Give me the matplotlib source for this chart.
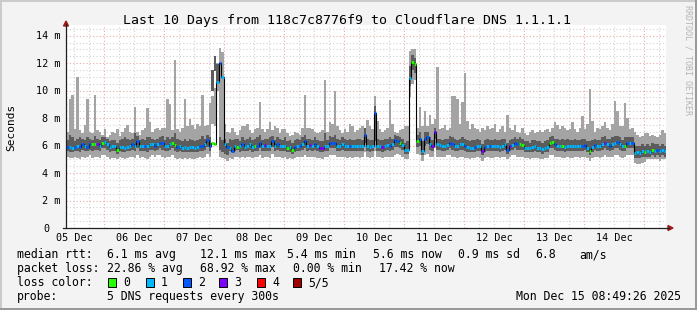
import numpy as np
import matplotlib
matplotlib.use('Agg')
import matplotlib.pyplot as plt
from matplotlib.patches import Rectangle, Polygon
from matplotlib.lines import Line2D

# hourly steps, starting Dec 05 08:49 (240 h = 10 days), values in ms
med = [5.9, 5.9, 5.8, 5.9, 6.0, 5.9, 6.1, 6.0, 5.9, 6.1, 6.1, 6.1, 6.1, 6.0, 6.2, 6.25, 6.1, 5.9, 6.0, 6.0, 5.7, 5.9, 5.9, 5.85,
       5.9, 6.0, 6.1, 6.0, 6.3, 6.0, 6.0, 6.0, 5.95, 6.1, 6.1, 6.0, 6.1, 6.2, 6.2, 6.0, 6.0, 6.1, 6.2, 6.05, 5.9, 6.0, 5.85, 5.9,
       5.8, 5.9, 5.9, 5.85, 5.9, 6.0, 6.0, 6.1, 6.4, 6.0, 6.2, 6.1, 10.6, 12.0, 11.0, 6.1, 5.9, 5.8, 5.6, 6.0, 5.9, 6.0, 6.1, 5.9,
       6.0, 6.1, 5.9, 6.0, 6.0, 6.2, 6.0, 6.05, 6.0, 6.0, 6.3, 6.0, 6.1, 6.0, 5.95, 6.0, 5.8, 5.9, 5.7, 5.9, 6.0, 6.0, 6.1, 6.3,
       6.0, 6.05, 6.0, 6.1, 5.95, 5.8, 5.8, 6.0, 6.0, 6.2, 6.2, 6.2, 6.0, 6.0, 6.1, 6.0, 6.0, 6.0, 5.95, 5.95, 6.0, 6.0, 6.0, 6.8,
       6.0, 5.9, 6.0, 8.4, 6.0, 6.0, 5.9, 6.0, 6.05, 6.0, 6.1, 6.4, 6.3, 6.15, 6.05, 5.7, 5.7, 10.9, 12.1, 11.9, 6.3, 6.5, 5.6, 6.5,
       6.6, 6.1, 6.0, 7.0, 6.1, 6.05, 6.0, 6.0, 6.05, 6.2, 6.1, 6.0, 6.0, 6.1, 6.1, 6.0, 5.9, 5.8, 5.8, 5.9, 5.95, 6.0, 5.6, 5.9,
       6.0, 6.0, 5.95, 6.0, 6.0, 5.9, 6.0, 6.1, 5.7, 6.0, 6.05, 6.2, 6.1, 6.1, 6.05, 5.8, 5.8, 5.8, 5.9, 5.95, 5.8, 5.8, 5.75, 5.8,
       5.9, 6.2, 6.25, 6.1, 6.0, 6.0, 6.0, 5.9, 6.0, 6.0, 5.95, 6.0, 6.0, 6.0, 6.0, 6.05, 5.8, 5.6, 5.9, 6.05, 6.0, 6.0, 6.1, 6.2,
       6.1, 6.0, 6.1, 6.2, 6.25, 6.1, 5.95, 6.0, 6.15, 6.2, 6.2, 5.45, 5.5, 5.45, 5.6, 5.55, 5.6, 5.55, 5.65, 5.6, 5.65, 5.6, 5.65, 5.6]

loss = [2, 1, 1, 2, 1, 2, 2, 1, 2, 2, 0, 0, 3, 1, 0, 1, 1, 1, 1, 1, 0, 1, 1, 1,
        1, 1, 2, 1, 2, 1, 1, 2, 1, 1, 1, 2, 1, 2, 2, 1, 1, 1, 0, 0, 2, 1, 1, 1,
        1, 1, 1, 1, 1, 2, 2, 1, 2, 2, 0, 0, 1, 2, 1, 1, 2, 1, 2, 1, 0, 1, 2, 1,
        1, 1, 1, 0, 2, 2, 1, 3, 1, 1, 2, 1, 2, 1, 1, 1, 0, 1, 0, 2, 1, 2, 1, 2,
        1, 3, 1, 2, 1, 3, 3, 1, 1, 2, 2, 2, 1, 1, 1, 1, 1, 2, 1, 1, 1, 1, 1, 2,
        1, 1, 1, 2, 1, 1, 3, 1, 1, 2, 1, 2, 2, 0, 1, 1, 1, 1, 0, 0, 0, 2, 1, 2,
        2, 1, 3, 3, 1, 1, 1, 1, 1, 2, 2, 1, 1, 1, 1, 2, 1, 1, 1, 2, 1, 1, 3, 2,
        1, 2, 1, 1, 1, 1, 1, 1, 2, 3, 1, 2, 2, 0, 0, 1, 1, 1, 1, 1, 1, 1, 1, 1,
        1, 0, 0, 2, 1, 1, 0, 1, 1, 1, 1, 1, 1, 1, 2, 2, 1, 0, 1, 2, 1, 1, 1, 3,
        1, 2, 1, 1, 2, 1, 1, 0, 2, 1, 2, 1, 1, 1, 1, 0, 1, 1, 0, 1, 2, 1, 1, 1]

hi = [7.0, 9.4, 9.7, 7.2, 11.0, 7.1, 6.9, 7.5, 9.4, 7.0, 6.9, 9.7, 7.1, 7.0, 6.8, 7.2, 6.6, 6.8, 7.0, 6.9, 7.2, 6.7, 7.0, 7.3,
      7.5, 7.0, 6.9, 8.8, 7.0, 6.8, 7.1, 7.3, 8.7, 7.7, 7.0, 7.2, 7.3, 7.1, 7.3, 7.3, 9.4, 9.0, 7.1, 12.2, 7.2, 7.0, 7.3, 9.4,
      7.4, 7.9, 7.5, 7.2, 7.6, 7.4, 9.7, 7.4, 7.5, 9.1, 7.6, 7.4, 12.0, 13.1, 12.8, 7.6, 7.0, 6.9, 7.3, 7.0, 6.8, 7.1, 7.4, 7.4,
      7.6, 7.1, 6.9, 7.2, 7.3, 9.2, 7.2, 7.0, 7.2, 7.7, 7.1, 7.4, 7.3, 6.9, 7.2, 7.2, 6.9, 6.7, 6.8, 7.0, 6.9, 6.8, 7.3, 9.7,
      7.3, 7.3, 7.2, 7.0, 6.9, 7.0, 7.1, 10.8, 7.0, 7.7, 7.6, 10.0, 7.4, 7.1, 6.9, 7.2, 7.0, 7.6, 7.4, 7.0, 7.1, 7.3, 7.4, 7.2,
      7.85, 7.4, 7.2, 9.6, 7.8, 7.2, 7.0, 7.1, 7.3, 9.3, 7.6, 7.0, 6.9, 7.1, 7.2, 7.4, 7.4, 12.9, 13.0, 13.0, 7.3, 8.8, 7.4, 8.5,
      7.4, 8.2, 7.6, 7.9, 11.7, 7.2, 7.3, 7.5, 7.1, 7.3, 9.6, 9.6, 9.4, 7.6, 9.2, 11.25, 7.8, 7.2, 7.6, 7.3, 7.2, 7.0, 7.3, 7.1,
      7.4, 7.2, 7.3, 7.6, 7.0, 7.2, 7.4, 7.0, 8.2, 7.3, 7.1, 7.5, 7.0, 6.9, 7.3, 6.9, 6.8, 7.0, 7.1, 6.9, 7.0, 7.1, 7.0, 7.1,
      7.2, 7.0, 7.3, 7.7, 7.5, 7.2, 7.4, 7.3, 7.1, 7.2, 7.7, 7.2, 7.0, 7.3, 8.15, 7.2, 7.6, 10.1, 7.8, 7.0, 7.3, 7.2, 7.4, 7.7,
      7.3, 7.1, 7.6, 9.25, 8.5, 7.4, 7.4, 9.1, 8.0, 7.2, 7.3, 7.0, 6.8, 6.6, 6.7, 6.9, 6.9, 6.7, 6.8, 6.7, 6.6, 6.8, 7.1, 6.9]

q3 = [6.4, 6.8, 6.6, 6.3, 6.5, 6.6, 6.5, 6.4, 6.6, 6.5, 6.4, 6.7, 6.5, 6.4, 6.6, 6.6, 6.5, 6.3, 6.4, 6.4, 6.2, 6.4, 6.5, 6.6,
      6.5, 6.4, 6.5, 6.9, 6.7, 6.4, 6.5, 6.4, 6.6, 6.6, 6.5, 6.4, 6.5, 6.6, 6.7, 6.4, 6.6, 6.5, 6.6, 6.9, 6.5, 6.4, 6.3, 6.5,
      6.3, 6.5, 6.4, 6.3, 6.4, 6.5, 6.7, 6.5, 6.8, 6.6, 11.5, 12.5, 11.9, 6.6, 6.4, 6.5, 6.2, 6.5, 6.4, 6.5, 6.5, 6.3, 6.6, 6.4,
      6.5, 6.6, 6.4, 6.5, 6.6, 6.8, 6.4, 6.5, 6.5, 6.6, 6.7, 6.4, 6.6, 6.5, 6.4, 6.6, 6.3, 6.4, 6.2, 6.4, 6.5, 6.4, 6.6, 6.8,
      6.5, 6.5, 6.4, 6.6, 6.4, 6.3, 6.3, 6.9, 6.4, 6.7, 6.6, 6.8, 6.5, 6.4, 6.6, 6.5, 6.4, 6.5, 6.4, 6.4, 6.5, 6.5, 6.4, 7.3,
      6.5, 6.4, 6.4, 8.9, 6.5, 6.4, 6.4, 6.5, 6.5, 6.6, 6.5, 6.8, 6.7, 6.6, 6.5, 6.2, 6.3, 11.8, 12.6, 12.4, 6.8, 7.0, 6.3, 7.0,
      7.0, 6.6, 6.4, 7.3, 6.5, 6.5, 6.4, 6.5, 6.5, 6.7, 6.6, 6.5, 6.4, 6.5, 6.6, 6.5, 6.4, 6.3, 6.4, 6.4, 6.5, 6.4, 6.1, 6.4,
      6.5, 6.4, 6.4, 6.5, 6.4, 6.4, 6.5, 6.5, 6.2, 6.4, 6.5, 6.6, 6.5, 6.6, 6.5, 6.3, 6.3, 6.2, 6.4, 6.4, 6.3, 6.3, 6.2, 6.3,
      6.4, 6.6, 6.7, 6.5, 6.5, 6.4, 6.5, 6.4, 6.5, 6.4, 6.4, 6.5, 6.4, 6.4, 6.5, 6.5, 6.3, 6.3, 6.4, 6.5, 6.4, 6.4, 6.6, 6.7,
      6.5, 6.5, 6.6, 6.7, 6.7, 6.6, 6.4, 6.6, 6.6, 6.6, 6.6, 6.0, 6.0, 6.0, 6.1, 6.0, 6.1, 6.0, 6.2, 6.1, 6.1, 6.0, 6.1, 6.0]

q1 = [5.6, 5.5, 5.5, 5.6, 5.6, 5.5, 5.7, 5.6, 5.6, 5.7, 5.6, 5.7, 5.7, 5.6, 5.8, 5.8, 5.7, 5.5, 5.6, 5.6, 5.4, 5.6, 5.5, 5.5,
      5.6, 5.6, 5.7, 5.6, 5.8, 5.6, 5.6, 5.6, 5.5, 5.7, 5.7, 5.6, 5.7, 5.8, 5.7, 5.6, 5.6, 5.7, 5.8, 5.6, 5.5, 5.6, 5.5, 5.5,
      5.5, 5.5, 5.5, 5.5, 5.5, 5.6, 5.6, 5.7, 5.9, 5.6, 10.0, 11.4, 10.5, 5.7, 5.5, 5.4, 5.3, 5.6, 5.5, 5.6, 5.7, 5.5, 5.6, 5.6,
      5.6, 5.7, 5.5, 5.6, 5.6, 5.8, 5.6, 5.6, 5.6, 5.6, 5.9, 5.6, 5.7, 5.6, 5.6, 5.6, 5.5, 5.5, 5.4, 5.5, 5.6, 5.6, 5.7, 5.8,
      5.6, 5.7, 5.6, 5.7, 5.6, 5.5, 5.5, 5.6, 5.6, 5.8, 5.8, 5.8, 5.6, 5.6, 5.7, 5.6, 5.6, 5.6, 5.6, 5.6, 5.6, 5.6, 5.6, 6.2,
      5.6, 5.5, 5.6, 6.3, 5.6, 5.6, 5.5, 5.6, 5.7, 5.6, 5.7, 5.9, 5.9, 5.8, 5.7, 5.4, 5.4, 10.3, 11.5, 11.3, 5.9, 6.0, 5.3, 6.0,
      6.1, 5.7, 5.6, 6.5, 5.7, 5.7, 5.6, 5.6, 5.7, 5.8, 5.7, 5.6, 5.6, 5.7, 5.7, 5.6, 5.5, 5.5, 5.5, 5.5, 5.6, 5.6, 5.3, 5.5,
      5.6, 5.6, 5.6, 5.6, 5.6, 5.5, 5.6, 5.7, 5.4, 5.6, 5.7, 5.8, 5.7, 5.7, 5.7, 5.5, 5.5, 5.5, 5.5, 5.6, 5.5, 5.5, 5.4, 5.5,
      5.5, 5.8, 5.8, 5.7, 5.6, 5.6, 5.6, 5.5, 5.6, 5.6, 5.6, 5.6, 5.6, 5.6, 5.6, 5.7, 5.5, 5.3, 5.5, 5.7, 5.6, 5.6, 5.7, 5.8,
      5.7, 5.6, 5.7, 5.8, 5.8, 5.7, 5.6, 5.6, 5.8, 5.8, 5.8, 5.1, 5.1, 5.1, 5.2, 5.2, 5.2, 5.2, 5.3, 5.2, 5.3, 5.2, 5.3, 5.2]

lo = [5.2, 5.1, 5.1, 5.2, 5.1, 5.0, 5.2, 5.1, 5.2, 5.3, 5.1, 5.2, 5.2, 5.1, 5.3, 5.3, 5.2, 5.0, 5.1, 5.1, 5.0, 5.2, 5.1, 5.0,
      5.1, 5.2, 5.2, 5.1, 5.3, 5.1, 5.2, 5.1, 5.0, 5.2, 5.3, 5.2, 5.3, 5.3, 5.2, 5.1, 5.2, 5.2, 5.3, 5.1, 5.0, 5.1, 5.0, 5.1,
      5.0, 5.1, 5.0, 5.0, 5.1, 5.2, 5.1, 5.2, 5.4, 5.2, 9.6, 10.2, 10.0, 5.2, 5.1, 5.0, 4.9, 5.1, 5.0, 5.2, 5.2, 5.1, 5.2, 5.1,
      5.2, 5.2, 5.1, 5.2, 5.2, 5.3, 5.1, 5.2, 5.2, 5.1, 5.4, 5.2, 5.2, 5.2, 5.1, 5.2, 5.0, 5.1, 5.0, 5.1, 5.2, 5.2, 5.2, 5.3,
      5.2, 5.2, 5.2, 5.2, 5.1, 5.1, 5.0, 5.2, 5.2, 5.3, 5.3, 5.3, 5.2, 5.2, 5.2, 5.2, 5.1, 5.2, 5.1, 5.2, 5.2, 5.1, 5.2, 5.5,
      5.2, 5.1, 5.2, 5.6, 5.2, 5.2, 5.1, 5.2, 5.2, 5.2, 5.2, 5.3, 5.4, 5.3, 5.2, 5.0, 5.0, 9.5, 10.5, 10.8, 5.4, 5.3, 4.9, 5.3,
      5.4, 5.2, 5.2, 5.8, 5.2, 5.2, 5.2, 5.2, 5.3, 5.3, 5.2, 5.2, 5.1, 5.2, 5.2, 5.1, 5.1, 5.0, 5.1, 5.1, 5.2, 5.1, 4.9, 5.1,
      5.2, 5.1, 5.1, 5.2, 5.2, 5.1, 5.2, 5.2, 5.0, 5.2, 5.3, 5.3, 5.2, 5.2, 5.2, 5.1, 5.1, 5.0, 5.1, 5.1, 5.1, 5.0, 5.0, 5.1,
      5.1, 5.3, 5.3, 5.2, 5.2, 5.2, 5.1, 5.1, 5.2, 5.1, 5.1, 5.2, 5.2, 5.1, 5.2, 5.2, 5.1, 4.9, 5.1, 5.2, 5.2, 5.1, 5.2, 5.3,
      5.2, 5.2, 5.2, 5.3, 5.3, 5.2, 5.1, 5.2, 5.3, 5.3, 5.3, 4.7, 4.65, 4.65, 4.7, 4.8, 5.0, 5.0, 5.0, 5.0, 5.0, 4.9, 5.0, 5.0]

day_labels = ["05 Dec", "06 Dec", "07 Dec", "08 Dec", "09 Dec", "10 Dec", "11 Dec", "12 Dec", "13 Dec", "14 Dec"]
y_labels = ["0", "2 m", "4 m", "6 m", "8 m", "10 m", "12 m", "14 m"]
loss_names = ["0", "1", "2", "3", "4", "5/5"]
loss_colors = ["#26ff00", "#00b8ff", "#0059ff", "#7e00ff", "#ff0000", "#a10000"]

row1 = [("median rtt:", 16.7), ("6.1 ms avg", 107.3), ("12.1 ms max", 199.5), ("5.4 ms min", 286.7),
        ("5.6 ms now", 372.7), ("0.9 ms sd", 458.3), ("6.8", 535), ("am/s", 579.3)]
row2 = [("packet loss:", 16.7), ("22.86 % avg", 107.3), ("68.92 % max", 200), ("0.00 % min", 293.3),
        ("17.42 % now", 379.3)]

W, H = 697, 310
mono = 'DejaVu Sans Mono'


def fx(x):
    return x / W


def fy(y):
    return 1 - y / H


fig = plt.figure(figsize=(W / 100, H / 100), dpi=100, facecolor='#f3f3f3')

# plot area: x 66..666 px, y 25..228 px ; 13.74 px per ms
top = (228 - 25) / 13.74
ax = fig.add_axes([fx(66), fy(228), 600 / W, 203 / H])
ax.set_xlim(0, 240)
ax.set_ylim(0, top)
ax.set_facecolor('white')
for s in ax.spines.values():
    s.set_visible(False)
ax.set_xticks([])
ax.set_yticks([])

off = 3.176  # hours from start to Dec 05 12:00
minor_c = '#d2d2d2'
major_c = '#eaa8a8'
for v in np.arange(0.5, top, 0.5):
    c = major_c if v % 2 == 0 else minor_c
    ax.axhline(v, color=c, lw=0.8, ls=(0, (1, 2)), zorder=1)
for h in np.arange(off, 240, 6):
    c = major_c if abs((h - off - 12) % 24) < 0.01 else minor_c
    ax.axvline(h, color=c, lw=0.8, ls=(0, (1, 2)), zorder=1)

edges = np.arange(241)


def ext(a):
    return np.append(a, a[-1])


ax.fill_between(edges, ext(lo), ext(hi), step='post', color='#a4a4a4', lw=0, zorder=2)
ax.fill_between(edges, ext(q1), ext(q3), step='post', color='#5c5c5c', lw=0, zorder=3)
ax.step(edges, ext(med), where='post', color='black', lw=0.8, zorder=4)
ax.hlines(med, edges[:-1], edges[1:], colors=[loss_colors[k] for k in loss], lw=2.0, zorder=5)

# axes with arrows
fig.add_artist(Line2D([fx(66), fx(66)], [fy(228), fy(24)], color='#202020', lw=0.9))
fig.add_artist(Line2D([fx(63), fx(669)], [fy(228), fy(228)], color='#202020', lw=0.9))
fig.add_artist(Polygon([(fx(63.5), fy(26)), (fx(68.5), fy(26)), (fx(66), fy(21))], closed=True,
                       color='#a01c1c', transform=fig.transFigure))
fig.add_artist(Polygon([(fx(668), fy(225.5)), (fx(668), fy(230.5)), (fx(673), fy(228))], closed=True,
                       color='#a01c1c', transform=fig.transFigure))

# tick labels
for k, lab in enumerate(y_labels):
    yy = 228 - 13.74 * 2 * k
    if lab == "0":
        fig.text(fx(43), fy(yy + 3.5), lab, family=mono, size=7.3, ha='left', va='baseline')
    else:
        fig.text(fx(60.5), fy(yy + 3.5), lab, family=mono, size=7.3, ha='right', va='baseline')
for k, lab in enumerate(day_labels):
    xx = 66 + 2.5 * (off + 24 * k)
    fig.text(fx(xx), fy(241), lab, family=mono, size=7.3, ha='center', va='baseline')

fig.text(fx(347), fy(24), "Last 10 Days from 118c7c8776f9 to Cloudflare DNS 1.1.1.1",
         family=mono, size=9.5, ha='center', va='baseline')
fig.text(fx(11), fy(127), "Seconds", family=mono, size=8, rotation=90, ha='center', va='center')
fig.text(fx(688), fy(5), "RRDTOOL / TOBI OETIKER", family=mono, size=6, rotation=270,
         ha='center', va='top', color='#b4b4b4')

# legend
for s, x in row1:
    fig.text(fx(x), fy(258.4), s, family=mono, size=8.3, ha='left', va='baseline')
for s, x in row2:
    fig.text(fx(x), fy(272.2), s, family=mono, size=8.3, ha='left', va='baseline')
fig.text(fx(16.7), fy(286), "loss color:", family=mono, size=8.3, ha='left', va='baseline')
box_x = [108, 146, 183, 219, 257, 293]
for k in range(6):
    fig.add_artist(Rectangle((fx(box_x[k]), fy(287)), 8 / W, 9 / H, facecolor=loss_colors[k],
                             edgecolor='black', lw=0.7, transform=fig.transFigure))
    fig.text(fx(box_x[k] + 15), fy(286), loss_names[k], family=mono, size=8.3, ha='left', va='baseline')
fig.text(fx(16.7), fy(300), "probe:", family=mono, size=8.3, ha='left', va='baseline')
fig.text(fx(107.3), fy(300), "5 DNS requests every 300s", family=mono, size=8.3, ha='left', va='baseline')
fig.text(fx(680.5), fy(300), "Mon Dec 15 08:49:26 2025", family=mono, size=8.3, ha='right', va='baseline')

# frame shading
fig.add_artist(Rectangle((0, fy(1.5)), 1, 1.5 / H, color='#cbcbcb', transform=fig.transFigure, lw=0))
fig.add_artist(Rectangle((0, 0), 1.5 / W, 1, color='#cbcbcb', transform=fig.transFigure, lw=0))
fig.add_artist(Rectangle((0, 0), 1, 2.5 / H, color='#999999', transform=fig.transFigure, lw=0))
fig.add_artist(Rectangle((fx(694.5), 0), 2.5 / W, 1, color='#999999', transform=fig.transFigure, lw=0))

fig.savefig('out.png', dpi=100, facecolor=fig.get_facecolor())
